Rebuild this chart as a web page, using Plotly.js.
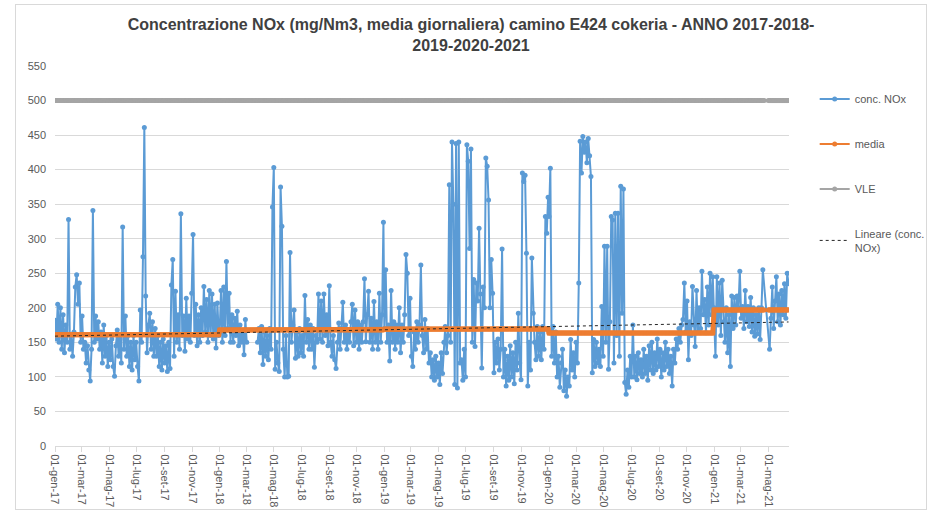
<!DOCTYPE html>
<html>
<head>
<meta charset="utf-8">
<script src="https://cdn.plot.ly/plotly-3.0.1.min.js"></script>
<style>
  html, body { margin: 0; padding: 0; background: #ffffff; }
  #chart { width: 942px; height: 513px; }
  #frame { position: absolute; left: 15px; top: 4px; width: 910px; height: 504px; border: 1px solid #d9d9d9; pointer-events: none; }
</style>
</head>
<body>
<div id="chart"></div>
<div id="frame"></div>
<script>
// ---- DATA (one value every 3 days from 1 January of each year) ----
const stepDays = 3;
const nox2017 = [182,155,205,150,200,140,190,135,175,150,328,140,160,130,165,230,248,205,236,150,
  188,140,150,120,145,110,94,140,341,150,188,155,180,140,165,120,175,130,160,115,
  150,125,155,115,101,145,168,130,155,120,317,140,188,130,160,115,150,110,160,125,
  150,115,94,197,150,274,461,217,135,175,192,140,180,130,170,130,160,115,150,110,
  155,120,145,108,150,112,233,270,130,224,150,190,140,336,160,188,137,214,155,188,
  150,221,306,160,205,145,190,150,200,160,231,165,212,150,225,160,220,155,205,142,
  207,160];
const nox2018 = [165,225,150,230,160,267,170,221,150,190,150,185,160,195,145,175,150,165,132,183,
  150,null,null,null,null,null,null,null,150,170,135,173,118,165,130,160,125,170,140,346,
  403,111,150,120,108,375,318,140,100,160,100,101,280,150,175,197,127,165,130,170,
  135,160,130,218,150,183,140,175,140,170,114,160,150,220,155,210,150,220,160,190,
  145,232,150,130,160,125,112,150,178,140,170,208,150,175,140,165,150,180,205,145,
  197,150,180,140,175,150,180,242,151,190,224,150,185,140,209,150,180,140,221,150,
  190,324];
const nox2019 = [170,255,150,175,123,225,150,180,140,175,150,200,135,175,150,190,277,250,160,214,
  130,115,165,140,180,150,175,262,160,135,183,140,170,120,135,100,125,95,130,100,
  120,89,135,105,150,173,135,160,378,150,440,350,89,438,84,440,120,125,95,140,
  100,436,412,286,430,150,241,144,236,210,315,220,113,230,200,417,405,356,200,270,
  221,106,150,120,155,110,140,285,100,140,87,130,95,145,100,135,90,150,110,192,
  120,96,395,383,392,279,87,150,110,272,192,150,125,173,130,165,125,173,140,332,
  308,360];
const nox2020 = [332,402,130,173,120,165,100,130,85,120,140,80,110,72,100,87,154,110,135,100,
  150,120,236,441,395,448,425,440,410,445,420,390,106,154,115,150,120,140,115,202,
  130,289,150,289,111,180,332,327,120,337,160,337,130,376,192,372,92,75,110,85,
  130,100,175,100,130,96,135,105,125,100,140,105,130,95,145,110,150,105,135,110,
  155,115,140,100,135,110,150,115,140,105,130,87,140,120,155,140,170,150,175,183,
  236,165,210,125,180,160,231,175,144,225,165,200,170,253,190,212,164,230,175,250,
  190,245];
const nox2021 = [200,130,245,175,236,160,240,180,150,200,135,190,115,217,170,215,175,217,200,253,
  185,202,170,225,180,202,173,215,165,200,159,190,162,200,154,200,255,null,null,null,
  null,140,185,230,170,210,245,180,220,175,225,190,235,185,250,235];
const noxYears = [2017, 2018, 2019, 2020, 2021];
const noxByYear = [nox2017, nox2018, nox2019, nox2020, nox2021];
const bridgedGapYears = [2021];                        // gap drawn as a straight segment in the blue series
const yearMeans = [161, 168, 169.5, 163.5, 197];      // "media" for each year
const vleValue = 500;                                  // VLE
const mediaGapSlots = [[2021, 38], [2021, 39]];        // missing days in media / VLE
const trendDates = ['2017-01-01', '2021-06-15'];
const trendValues = [159, 179.5];                      // Lineare (conc. NOx)
const tickDates = ['2017-01-01','2017-03-01','2017-05-01','2017-07-01','2017-09-01','2017-11-01',
  '2018-01-01','2018-03-01','2018-05-01','2018-07-01','2018-09-01','2018-11-01',
  '2019-01-01','2019-03-01','2019-05-01','2019-07-01','2019-09-01','2019-11-01',
  '2020-01-01','2020-03-01','2020-05-01','2020-07-01','2020-09-01','2020-11-01',
  '2021-01-01','2021-03-01','2021-05-01'];
const tickLabels = ['01-gen-17','01-mar-17','01-mag-17','01-lug-17','01-set-17','01-nov-17',
  '01-gen-18','01-mar-18','01-mag-18','01-lug-18','01-set-18','01-nov-18',
  '01-gen-19','01-mar-19','01-mag-19','01-lug-19','01-set-19','01-nov-19',
  '01-gen-20','01-mar-20','01-mag-20','01-lug-20','01-set-20','01-nov-20',
  '01-gen-21','01-mar-21','01-mag-21'];

// ---- build traces ----
function slotDate(year, i) {
  const t = Date.UTC(year, 0, 1) + i * stepDays * 86400000;
  return new Date(t).toISOString().slice(0, 10);
}
const xAll = [], yNox = [], yMedia = [], yVle = [];
const bridgeX = [], bridgeY = [];
noxYears.forEach((yr, k) => {
  const arr = noxByYear[k];
  arr.forEach((v, i) => {
    xAll.push(slotDate(yr, i));
    yNox.push(v);
    const gap = mediaGapSlots.some(g => g[0] === yr && g[1] === i);
    yMedia.push(gap ? null : yearMeans[k]);
    yVle.push(gap ? null : vleValue);
    if (bridgedGapYears.includes(yr) && v === null) {
      if (i > 0 && arr[i - 1] !== null) { bridgeX.push(slotDate(yr, i - 1)); bridgeY.push(arr[i - 1]); }
      if (i < arr.length - 1 && arr[i + 1] !== null) { bridgeX.push(slotDate(yr, i + 1)); bridgeY.push(arr[i + 1]); bridgeX.push(null); bridgeY.push(null); }
    }
  });
});

const FONT = 'Liberation Sans, Arial, sans-serif';
const BLUE = '#5B9BD5', ORANGE = '#ED7D31', GREY = '#A5A5A5';
const traces = [
  { x: bridgeX, y: bridgeY, type: 'scatter', mode: 'lines', connectgaps: false, showlegend: false,
    line: { color: BLUE, width: 2 } },
  { name: 'conc. NOx', x: xAll, y: yNox, type: 'scatter', mode: 'lines+markers', connectgaps: false,
    line: { color: BLUE, width: 2 }, marker: { color: BLUE, size: 5 }, legendgroup: 'a' },
  { x: xAll, y: yMedia, type: 'scatter', mode: 'lines', connectgaps: false, showlegend: false,
    line: { color: ORANGE, width: 5 } },
  { name: 'media', x: xAll, y: yMedia, type: 'scatter', mode: 'lines+markers', connectgaps: false,
    line: { color: ORANGE, width: 2 }, marker: { color: ORANGE, size: 5 }, legendgroup: 'b' },
  { x: xAll, y: yVle, type: 'scatter', mode: 'lines', connectgaps: false, showlegend: false,
    line: { color: GREY, width: 5 } },
  { name: 'VLE', x: xAll, y: yVle, type: 'scatter', mode: 'lines+markers', connectgaps: false,
    line: { color: GREY, width: 2 }, marker: { color: GREY, size: 5 }, legendgroup: 'c' },
  { name: 'Lineare (conc.<br>NOx)', x: trendDates, y: trendValues, type: 'scatter', mode: 'lines',
    line: { color: '#262626', width: 1, dash: 'dot' }, legendgroup: 'd' }
];

const layout = {
  width: 942, height: 513,
  margin: { l: 55, r: 144, t: 66, b: 67 },
  paper_bgcolor: '#ffffff', plot_bgcolor: '#ffffff',
  font: { family: FONT, size: 11, color: '#595959' },
  title: {
    text: '<b>Concentrazione NOx (mg/Nm3, media giornaliera) camino E424 cokeria - ANNO 2017-2018-<br>2019-2020-2021</b>',
    font: { family: FONT, size: 16, color: '#404040' },
    x: 0.5, xanchor: 'center', y: 0.942, yanchor: 'top'
  },
  xaxis: {
    type: 'date', range: ['2017-01-01', '2021-06-16'],
    tickmode: 'array', tickvals: tickDates, ticktext: tickLabels, tickangle: 90,
    tickfont: { family: FONT, size: 11, color: '#595959' },
    showgrid: false, zeroline: false, showline: true, linecolor: '#d9d9d9', linewidth: 1,
    ticks: 'outside', ticklen: 5, tickcolor: '#d9d9d9'
  },
  yaxis: {
    range: [0, 550], dtick: 50, tick0: 0,
    showgrid: true, gridcolor: '#d9d9d9', gridwidth: 1, zeroline: false, showline: false,
    tickfont: { family: FONT, size: 11, color: '#595959' }, ticklabelstandoff: 8
  },
  showlegend: true,
  legend: {
    x: 1.035, xanchor: 'left', y: 0.951, yanchor: 'top',
    font: { family: FONT, size: 11, color: '#595959' },
    traceorder: 'grouped', tracegroupgap: 26, itemwidth: 30, bgcolor: 'rgba(0,0,0,0)'
  },
  hovermode: false
};

Plotly.newPlot('chart', traces, layout, { displayModeBar: false, staticPlot: true });
</script>
</body>
</html>
